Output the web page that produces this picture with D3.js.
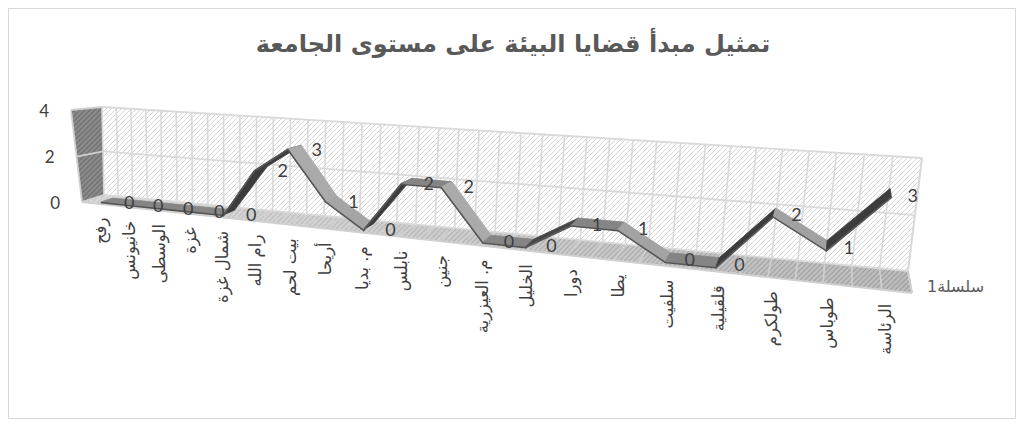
<!DOCTYPE html>
<html><head><meta charset="utf-8">
<script src="https://cdn.jsdelivr.net/npm/d3@7"></script>
<style>
html,body{margin:0;padding:0;background:#fff;}
svg{display:block;}
</style></head><body>
<script>
const titleText = "تمثيل مبدأ قضايا البيئة على مستوى الجامعة";
const seriesName = "سلسلة1";
const categories = ["رفح","خانيونس","الوسطى","غزة","شمال غزة","رام الله","بيت لحم","أريحا","م. بديا","نابلس","جنين","م. العيزرية","الخليل","دورا","يطا","سلفيت","قلقيلية","طولكرم","طوباس","الرئاسة"];
const values = [0,0,0,0,0,2,3,1,0,2,2,0,0,1,1,0,0,2,1,3];
const yTicks = [0,2,4];

const W = 1024, H = 426;
const svg = d3.select("body").append("svg").attr("width", W).attr("height", H);

// screen corners of the back wall (z=1) and front plane (z=0)
const backQ  = {bl:[104,195], br:[908,271], tr:[922,158], tl:[102,107]};
const frontQ = {bl:[82,202],  br:[912,293], tr:[927,172], tl:[71,110]};
const persp = -0.093; // extra horizontal foreshortening

function squareToQuad(q){
  const [x0,y0]=q.bl,[x1,y1]=q.br,[x2,y2]=q.tr,[x3,y3]=q.tl;
  const dx1=x1-x2, dx2=x3-x2, dx3=x0-x1+x2-x3;
  const dy1=y1-y2, dy2=y3-y2, dy3=y0-y1+y2-y3;
  const den = dx1*dy2-dx2*dy1;
  const g=(dx3*dy2-dx2*dy3)/den, h=(dx1*dy3-dx3*dy1)/den;
  const a=x1-x0+g*x1, b=x3-x0+h*x3, c=x0;
  const d=y1-y0+g*y1, e=y3-y0+h*y3, f=y0;
  return (u,v)=>{const w=g*u+h*v+1; return [(a*u+b*v+c)/w,(d*u+e*v+f)/w];};
}
const Hb = squareToQuad(backQ), Hf = squareToQuad(frontQ);
function P(u,v,z){
  const uu = (1+persp)*u/(1+persp*u);
  const a=Hf(uu,v), b=Hb(uu,v);
  return [a[0]+(b[0]-a[0])*z, a[1]+(b[1]-a[1])*z];
}

const x = d3.scaleBand().domain(categories).range([0,1]);
const y = d3.scaleLinear().domain([0,4]).range([0,1]);
const uc = c => x(c) + x.bandwidth()/2;

const defs = svg.append("defs");
function hatch(id, bg, fg, sw){
  const p = defs.append("pattern").attr("id",id).attr("patternUnits","userSpaceOnUse")
    .attr("width",5).attr("height",5);
  p.append("rect").attr("width",5).attr("height",5).attr("fill",bg);
  p.append("path").attr("d","M-1,1 L1,-1 M0,5 L5,0 M4,6 L6,4").attr("stroke",fg).attr("stroke-width",sw);
}
hatch("hBack","#ffffff","#d6d6d6",1);
hatch("hSide","#8a8a8a","#6e6e6e",1.2);
hatch("hFloor","#bcbcbc","#9c9c9c",1.2);
const fg = defs.append("linearGradient").attr("id","floorFade").attr("x1","0").attr("x2","1").attr("y1","0").attr("y2","0");
fg.append("stop").attr("offset","0").attr("stop-color","#fff").attr("stop-opacity",0.45);
fg.append("stop").attr("offset","1").attr("stop-color","#fff").attr("stop-opacity",0);

// border
svg.append("rect").attr("x",8.5).attr("y",8.5).attr("width",1007).attr("height",410)
  .attr("fill","#fff").attr("stroke","#d9d9d9").attr("stroke-width",1);

// title
const t = svg.append("text").attr("x",513).attr("y",44).attr("text-anchor","middle")
  .attr("dominant-baseline","central").attr("font-family","DejaVu Sans, sans-serif")
  .attr("font-weight","bold").attr("font-size",22).attr("fill","#595959").text(titleText);
const tl = t.node().getComputedTextLength();
t.attr("font-size", 22*515/tl);

const poly = pts => "M" + pts.map(p=>p.join(",")).join("L") + "Z";
const g = svg.append("g");

// walls
g.append("path").attr("d",poly([P(0,0,1),P(1,0,1),P(1,1,1),P(0,1,1)])).attr("fill","url(#hBack)");
g.append("path").attr("d",poly([P(0,0,0),P(0,0,1),P(0,1,1),P(0,1,0)])).attr("fill","url(#hSide)");
const floorPts = poly([P(0,0,0),P(1,0,0),P(1,0,1),P(0,0,1)]);
g.append("path").attr("d",floorPts).attr("fill","url(#hFloor)");
g.append("path").attr("d",floorPts).attr("fill","url(#floorFade)");

const gridCol = "#d9d9d9";
const line = (a,b,col,w)=>g.append("line").attr("x1",a[0]).attr("y1",a[1]).attr("x2",b[0]).attr("y2",b[1])
  .attr("stroke",col).attr("stroke-width",w);
const nV = categories.length*2;
for(let k=0;k<=nV;k++){
  const u=k/nV;
  line(P(u,0,1),P(u,1,1),gridCol,1.6);
  line(P(u,0,0),P(u,0,1),"#d0d0d0",1.6);
}
yTicks.forEach(v=>{
  line(P(0,y(v),1),P(1,y(v),1),gridCol,1.8);
  line(P(0,y(v),0),P(0,y(v),1),"#cfcfcf",1.8);
});
line(P(0,1,0),P(0,0,0),"#d0d0d0",1.8);
line(P(0,0,0),P(1,0,0),"#d0d0d0",1.8);
line(P(1,0,0),P(1,0,1),"#d0d0d0",1.8);
line(P(1,0,1),P(1,1,1),gridCol,1.8);

// y tick labels
yTicks.forEach(v=>{
  const p = P(0,y(v),0);
  svg.append("text").attr("x",p[0]-22).attr("y",p[1]).attr("text-anchor","end")
    .attr("dominant-baseline","central").attr("font-family","Lato, sans-serif")
    .attr("font-size",17).attr("fill","#404040").text(v);
});

// ribbon
const z0=0.24, z1=0.76;
const shade = d3.scaleLinear().domain([-0.7,0,0.5]).range(["#aaaaaa","#858585","#3c3c3c"]).clamp(true);
const rg = svg.append("g");
for(let i=0;i<values.length-1;i++){
  const ua=uc(categories[i]), ub=uc(categories[i+1]);
  const va=y(values[i]), vb=y(values[i+1]);
  const a0=P(ua,va,z0), b0=P(ub,vb,z0), b1=P(ub,vb,z1), a1=P(ua,va,z1);
  const dxs=b0[0]-a0[0], dys=a0[1]-b0[1];
  const s = dys/Math.hypot(dxs,dys);
  const col = shade(values[i+1]===values[i]?0:s);
  rg.append("path").attr("d",poly([a0,b0,b1,a1])).attr("fill",col).attr("stroke",col).attr("stroke-width",0.8).attr("stroke-linejoin","round");
  rg.append("line").attr("x1",a0[0]).attr("y1",a0[1]+0.8).attr("x2",b0[0]).attr("y2",b0[1]+0.8)
    .attr("stroke","#555").attr("stroke-width",1.6).attr("stroke-linecap","round");
}

// data labels
values.forEach((v,i)=>{
  const p = P(uc(categories[i]), y(v), 0.5);
  svg.append("text").attr("x",p[0]+22).attr("y",p[1]+2).attr("text-anchor","middle")
    .attr("dominant-baseline","central").attr("font-family","Lato, sans-serif")
    .attr("font-size",18).attr("fill","#404040").text(v);
});

// category labels
categories.forEach((c,i)=>{
  const p = P(uc(c),0,0);
  const lx = p[0] + 4, ly = p[1] + 14;
  svg.append("text").attr("transform",`translate(${lx},${ly}) rotate(-90)`)
    .attr("text-anchor","end").attr("dominant-baseline","central")
    .attr("font-family","DejaVu Sans, sans-serif").attr("font-size",16.5)
    .attr("fill","#404040").text(c);
});

// series label
svg.append("text").attr("x",927).attr("y",286).attr("text-anchor","start")
  .attr("dominant-baseline","central").attr("font-family","DejaVu Sans, sans-serif")
  .attr("font-size",16).attr("fill","#595959").text(seriesName);
</script>
</body></html>
